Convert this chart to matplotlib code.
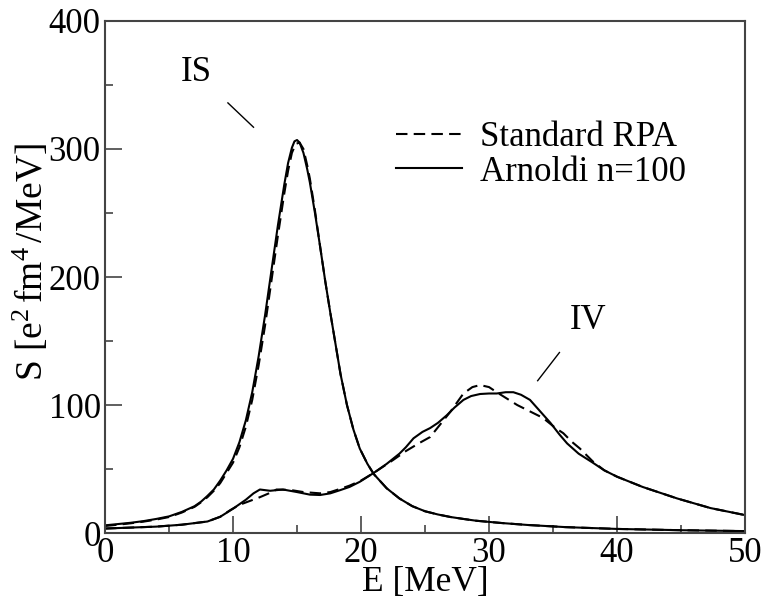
import matplotlib
matplotlib.use('Agg')
import matplotlib.pyplot as plt

# isoscalar response, Arnoldi n=100 (solid)
is_e = [0, 1, 2, 3, 4, 5, 6, 7, 7.5, 8, 8.5, 9, 9.5, 10, 10.5, 11, 11.5, 12,
        12.5, 13, 13.5, 14, 14.3, 14.6, 14.8, 15.0, 15.2, 15.5, 15.8, 16.0, 16.4,
        16.8, 17.2, 17.6, 18.0, 18.4, 18.9, 19.4, 19.9, 20.5, 21, 22, 23, 24, 25,
        26, 27, 28, 29, 31, 33, 36, 40, 45, 50]
is_arn = [6, 7, 8, 9.3, 11, 13, 16.5, 21, 24.5, 29, 34, 41, 49, 58, 71, 88, 110,
          138, 170, 205, 240, 272, 289, 301, 306, 307, 305, 297, 284, 274, 250,
          224, 197, 172, 148, 124, 100, 81, 66, 54, 46, 35, 27, 21, 17, 14.5,
          12.5, 11, 9.6, 7.8, 6.3, 4.6, 3.2, 2.2, 1.5]
# isoscalar response, standard RPA (dashed)
is_rpa_e = [0, 1, 2, 3, 4, 5, 6, 7, 7.5, 8, 8.5, 9, 9.5, 10, 10.5, 11, 11.5, 12,
            12.5, 13, 13.5, 14, 14.3, 14.6, 14.9, 15.2, 15.5, 15.8, 16.0, 16.4,
            16.8, 17.2, 17.6, 18.0, 18.4, 18.9, 19.4, 19.9, 20.5, 21, 22, 23, 24,
            25, 26, 27, 28, 29, 31, 33, 36, 40, 45, 50]
is_rpa = [5.5, 6.5, 7.6, 8.9, 10.5, 12.5, 16, 20.5, 24, 28, 33, 39, 47, 55, 67,
          83, 104, 131, 162, 197, 232, 265, 283, 297, 304, 305, 300, 287, 277,
          252, 224, 197, 172, 148, 124, 100, 81, 66, 54, 46, 35, 27, 21, 17,
          14.5, 12.5, 11, 9.6, 7.8, 6.3, 4.6, 3.2, 2.2, 1.5]

# isovector response, Arnoldi n=100 (solid)
iv_e = [0, 4, 6, 8, 9, 10, 11, 11.6, 12.1, 12.9, 13.9, 15, 16, 16.8, 17.6, 18.4,
        19.1, 19.9, 21, 22, 23, 23.5, 24.1, 24.8, 25.4, 26, 26.7, 27.3, 28, 28.6,
        29.3, 30, 30.6, 31.3, 31.9, 32.5, 33.2, 34, 34.8, 35.5, 36.1, 37, 38.1,
        39, 40, 42, 44.7, 47.3, 50]
iv_arn = [3.5, 5, 6.5, 9, 12.7, 19, 26, 31, 34, 33, 34, 32, 30, 29.7, 31, 33.6,
          36, 40, 47, 54, 62, 67, 74, 79, 82, 86, 92, 98, 104, 107, 108.6, 109,
          109, 110, 110, 108, 104, 95, 86, 77, 70, 62, 55, 49, 44, 36, 27, 19.5, 14]
# isovector response, standard RPA (dashed)
iv_rpa_e = [0, 4, 6, 8, 9, 9.8, 10.5, 11.3, 12.1, 12.8, 13.4, 14.5, 15.5, 16.8,
            17.6, 18.4, 19.1, 20, 21, 22.5, 23.5, 24.5, 25.4, 26.2, 27, 28, 28.7,
            29.3, 30, 30.6, 31.4, 32.2, 33.2, 34.2, 35.2, 35.8, 36.5, 37.1, 38.1,
            39, 40, 42, 44.7, 47.3, 50]
iv_rpa = [3.5, 5, 6.5, 9, 12.7, 18, 22, 25, 28, 31, 34, 33.6, 32, 31, 32, 34.6,
          37, 41, 47, 57, 64, 70, 75, 85, 95, 109, 114, 115.6, 114, 110, 105, 100,
          95, 90, 82, 78, 71, 66, 56, 49, 44, 36, 27, 19.5, 14]

plt.rcParams['font.family'] = 'serif'
plt.rcParams['font.serif'] = ['Liberation Serif', 'DejaVu Serif']
plt.rcParams['mathtext.fontset'] = 'custom'
plt.rcParams['mathtext.rm'] = 'Liberation Serif'
plt.rcParams['mathtext.it'] = 'Liberation Serif:italic'

fig = plt.figure(figsize=(7.65, 6.01), dpi=100)
ax = fig.add_axes([0.1373, 0.1131, 0.8366, 0.852])

DASH = (5.5, 3)
ax.plot(is_rpa_e, is_rpa, color='black', lw=1.5, dashes=DASH, label='Standard RPA')
ax.plot(is_e, is_arn, color='black', lw=1.5, label='Arnoldi n=100')
ax.plot(iv_rpa_e, iv_rpa, color='black', lw=1.5, dashes=DASH)
ax.plot(iv_e, iv_arn, color='black', lw=1.5)

ax.set_xlim(0, 50)
ax.set_ylim(0, 400)
ax.set_xticks([0, 10, 20, 30, 40, 50])
ax.set_xticks([5, 15, 25, 35, 45], minor=True)
ax.set_yticks([0, 100, 200, 300, 400])
ax.set_yticks([50, 150, 250, 350], minor=True)
ax.tick_params(which='both', direction='in', color='#444444', width=1.2,
               labelsize=25, top=False, right=False)
ax.tick_params(which='major', length=12, pad=3)
ax.tick_params(which='minor', length=6)
for s in ax.spines.values():
    s.set_color('#444444')
    s.set_linewidth(1.5)

ax.set_xlabel('E [MeV]', fontsize=25.5, labelpad=-3)
ax.set_ylabel(r'S [e$^{2}\,$fm$^{4}\,$/MeV]', fontsize=27)
ax.yaxis.set_label_coords(-0.085, 0.53)

# peak labels
ax.text(7.1, 360, 'IS', fontsize=25, ha='center', va='center')
ax.plot([9.6, 11.6], [336, 317], color='black', lw=1)
ax.text(37.7, 166, 'IV', fontsize=25, ha='center', va='center')
ax.plot([35.5, 33.8], [141, 119], color='black', lw=1)

ax.legend(loc='upper left', bbox_to_anchor=(0.455, 0.805), frameon=False,
          fontsize=25, handlelength=1.9, handletextpad=0.5, labelspacing=0.05,
          borderpad=0, borderaxespad=0)

fig.savefig('out.png', dpi=100)
